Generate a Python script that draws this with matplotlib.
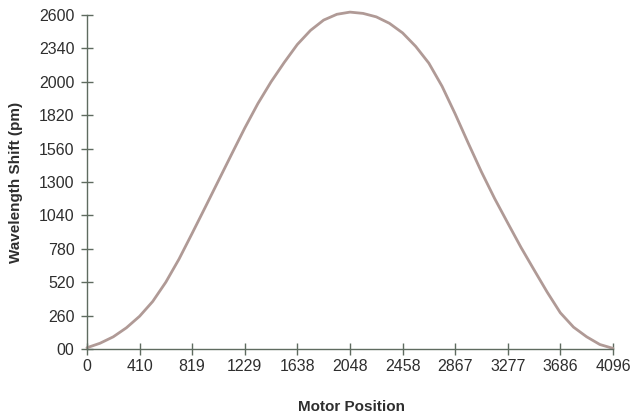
import matplotlib
matplotlib.use("Agg")
import matplotlib.pyplot as plt
from matplotlib import font_manager

# motor position vs. wavelength shift (pm)
motor_pos = [0, 102, 205, 307, 410, 512, 614, 717, 819, 922, 1024, 1126,
             1229, 1331, 1434, 1536, 1638, 1741, 1843, 1946, 2048, 2150,
             2253, 2355, 2458, 2560, 2662, 2765, 2867, 2970, 3072, 3174,
             3277, 3379, 3482, 3584, 3686, 3789, 3891, 3994, 4096]
shift_pm = [10, 45, 95, 165, 255, 370, 520, 700, 900, 1105, 1310, 1515,
            1720, 1910, 2080, 2230, 2370, 2480, 2560, 2605, 2622, 2612,
            2585, 2535, 2460, 2355, 2225, 2045, 1830, 1600, 1378, 1172,
            980, 792, 615, 442, 282, 170, 95, 35, 5]

x_ticks = [0, 410, 819, 1229, 1638, 2048, 2458, 2867, 3277, 3686, 4096]
y_ticks = [0, 260, 520, 780, 1040, 1300, 1560, 1820, 2080, 2340, 2600]
y_tick_labels = ["00", "260", "520", "780", "1040", "1300", "1560", "1820",
                 "2000", "2340", "2600"]

# prefer a narrow face if one is around
installed = {f.name for f in font_manager.fontManager.ttflist}
fams = [f for f in ("Liberation Sans Narrow", "DejaVu Sans Condensed",
                    "Liberation Sans") if f in installed]
plt.rcParams['font.family'] = fams + ['DejaVu Sans']

axis_col = "#5f6b60"
text_col = "#2e2e2e"

fig = plt.figure(figsize=(6.3, 4.15), dpi=100)
ax = fig.add_axes([0.138, 0.159, 0.835, 0.805])

ax.plot(motor_pos, shift_pm, color="#b09a96", lw=2.0, clip_on=False,
        solid_capstyle="round", solid_joinstyle="round")

ax.set_xlim(0, 4096)
ax.set_ylim(0, 2600)
ax.set_xticks(x_ticks)
ax.set_xticklabels([str(t) for t in x_ticks])
ax.set_yticks(y_ticks)
ax.set_yticklabels(y_tick_labels)

for s in ("top", "right"):
    ax.spines[s].set_visible(False)
for s in ("left", "bottom"):
    ax.spines[s].set_color(axis_col)
    ax.spines[s].set_linewidth(1.0)

ax.tick_params(axis="both", direction="inout", length=8, width=1.0,
               color=axis_col, labelcolor=text_col, labelsize=11.5)
ax.tick_params(axis="x", pad=3)
ax.tick_params(axis="y", pad=5)

ax.set_ylabel("Wavelength Shift (pm)", fontsize=11, fontweight="bold",
              color=text_col)
ax.yaxis.set_label_coords(-0.135, 0.5)
ax.set_xlabel("Motor Position", fontsize=11, fontweight="bold",
              color=text_col)
ax.xaxis.set_label_coords(0.502, -0.174)
ax.xaxis.label.set_va("center")
ax.yaxis.label.set_va("center")

fig.savefig("out.png", dpi=100)
